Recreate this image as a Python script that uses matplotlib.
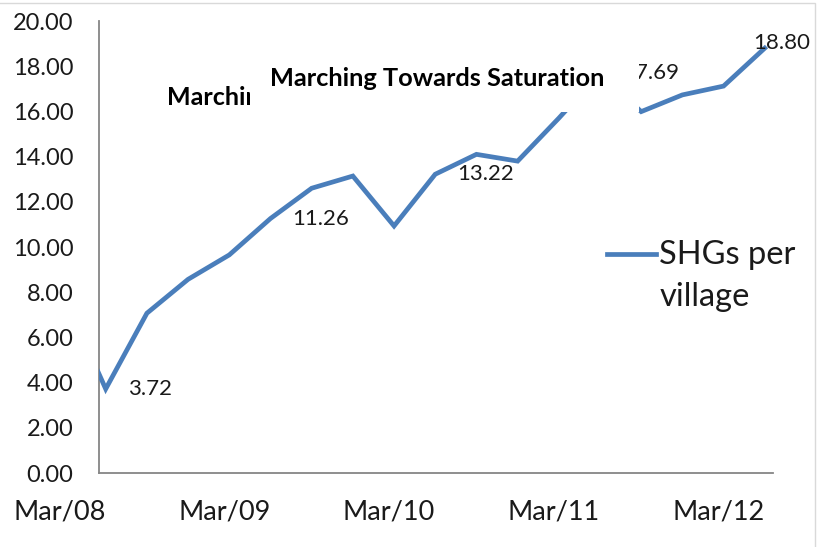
import matplotlib
matplotlib.use("Agg")
import matplotlib.pyplot as plt
import matplotlib.transforms as mtransforms
from matplotlib.patches import Rectangle
from matplotlib.lines import Line2D
from matplotlib.offsetbox import HPacker

# ---- data ----
categories = ["Mar/08", "Jun/08", "Sep/08", "Dec/08", "Mar/09", "Jun/09", "Sep/09", "Dec/09",
              "Mar/10", "Jun/10", "Sep/10", "Dec/10", "Mar/11", "Jun/11", "Sep/11", "Dec/11",
              "Mar/12", "Jun/12"]
shgs_per_village = [7.8, 3.72, 7.07, 8.57, 9.65, 11.26, 12.6, 13.14, 10.93, 13.22,
                    14.1, 13.8, 15.7, 17.69, 15.99, 16.73, 17.12, 18.80]
labelled_points = [1, 5, 9, 13, 17]
axis_labels = ["Mar/08", "Mar/09", "Mar/10", "Mar/11", "Mar/12"]
y_ticks = [0, 2, 4, 6, 8, 10, 12, 14, 16, 18, 20]
title = "Marching Towards Saturation"
series_name = "SHGs per\nvillage"

plt.rcParams['font.family'] = ['Lato', 'DejaVu Sans']

W, H = 819, 547
fig = plt.figure(figsize=(W / 100, H / 100), dpi=100)

def fx(px):
    return px / W

def fy(py):
    return 1 - py / H

left, right, top, bottom = 98.5, 773, 21, 473
ax = fig.add_axes([fx(left), fy(bottom), fx(right - left), (bottom - top) / H])

blue = "#4a7ebb"
x = list(range(len(categories)))
ax.plot(x, shgs_per_village, color=blue, lw=3.4, solid_joinstyle="miter", zorder=3)

ax.set_xlim(0.825, 17.2)
ax.set_ylim(0, 20)
ax.set_yticks(y_ticks)
ax.set_yticklabels([f"{v:.2f}" for v in y_ticks], fontsize=17, color="#1a1a1a")
ax.tick_params(axis="y", length=0, pad=18)
ax.set_xticks([])
for s in ["top", "right"]:
    ax.spines[s].set_visible(False)
for s in ["left", "bottom"]:
    ax.spines[s].set_color("#868686")
    ax.spines[s].set_linewidth(1.3)

# category labels (first one sits left of the plotted range)
trans = mtransforms.blended_transform_factory(ax.transData, ax.transAxes)
for lab in axis_labels:
    i = categories.index(lab)
    ax.text(i - 0.12, -0.086, lab, transform=trans, ha="center", va="center",
            fontsize=19.5, color="#1a1a1a", clip_on=False)

# data labels
for i in labelled_points:
    if i == len(categories) - 1:
        ax.annotate(f"{shgs_per_village[i]:.2f}", (x[i], shgs_per_village[i]),
                    xytext=(-12, 5), textcoords="offset pixels", ha="left", va="center",
                    fontsize=16, color="#1a1a1a", annotation_clip=False)
    else:
        ax.annotate(f"{shgs_per_village[i]:.2f}", (x[i], shgs_per_village[i]),
                    xytext=(22, 0), textcoords="offset pixels", ha="left", va="center",
                    fontsize=16, color="#1a1a1a")

# hidden duplicate title, partly covered
fig.text(fx(167), fy(97), title, ha="left", va="center", fontsize=18, fontweight="bold",
         color="#000000", zorder=0.5)
# white title box covering part of the chart
fig.patches.append(Rectangle((fx(250), fy(112)), fx(639 - 250), (112 - 40) / H,
                             transform=fig.transFigure, facecolor="white",
                             edgecolor="none", zorder=1))
fig.text(fx(270), fy(78.5), title, ha="left", va="center", fontsize=18.3, fontweight="bold",
         color="#000000", zorder=3)

# chart border
fig.patches.append(Rectangle((fx(-5), fy(560)), fx(815 + 5), (560 - 3) / H,
                             transform=fig.transFigure, facecolor="none",
                             edgecolor="#d9d9d9", lw=1.0, zorder=2))

# legend
handle = Line2D([], [], color=blue, lw=3.4)
leg = ax.legend([handle], [series_name], loc="upper left",
                bbox_to_anchor=(fx(607), fy(240)), bbox_transform=fig.transFigure,
                frameon=False, handlelength=1.5, handletextpad=0.1, handleheight=1.25,
                borderpad=0, borderaxespad=0, labelspacing=0,
                prop={"family": "Lato", "size": 23.5})
for t in leg.get_texts():
    t.set_color("#1a1a1a")
    t.set_linespacing(1.5)
for p in leg.findobj(HPacker):
    p.align = "top"

fig.savefig("out.png", dpi=100)
